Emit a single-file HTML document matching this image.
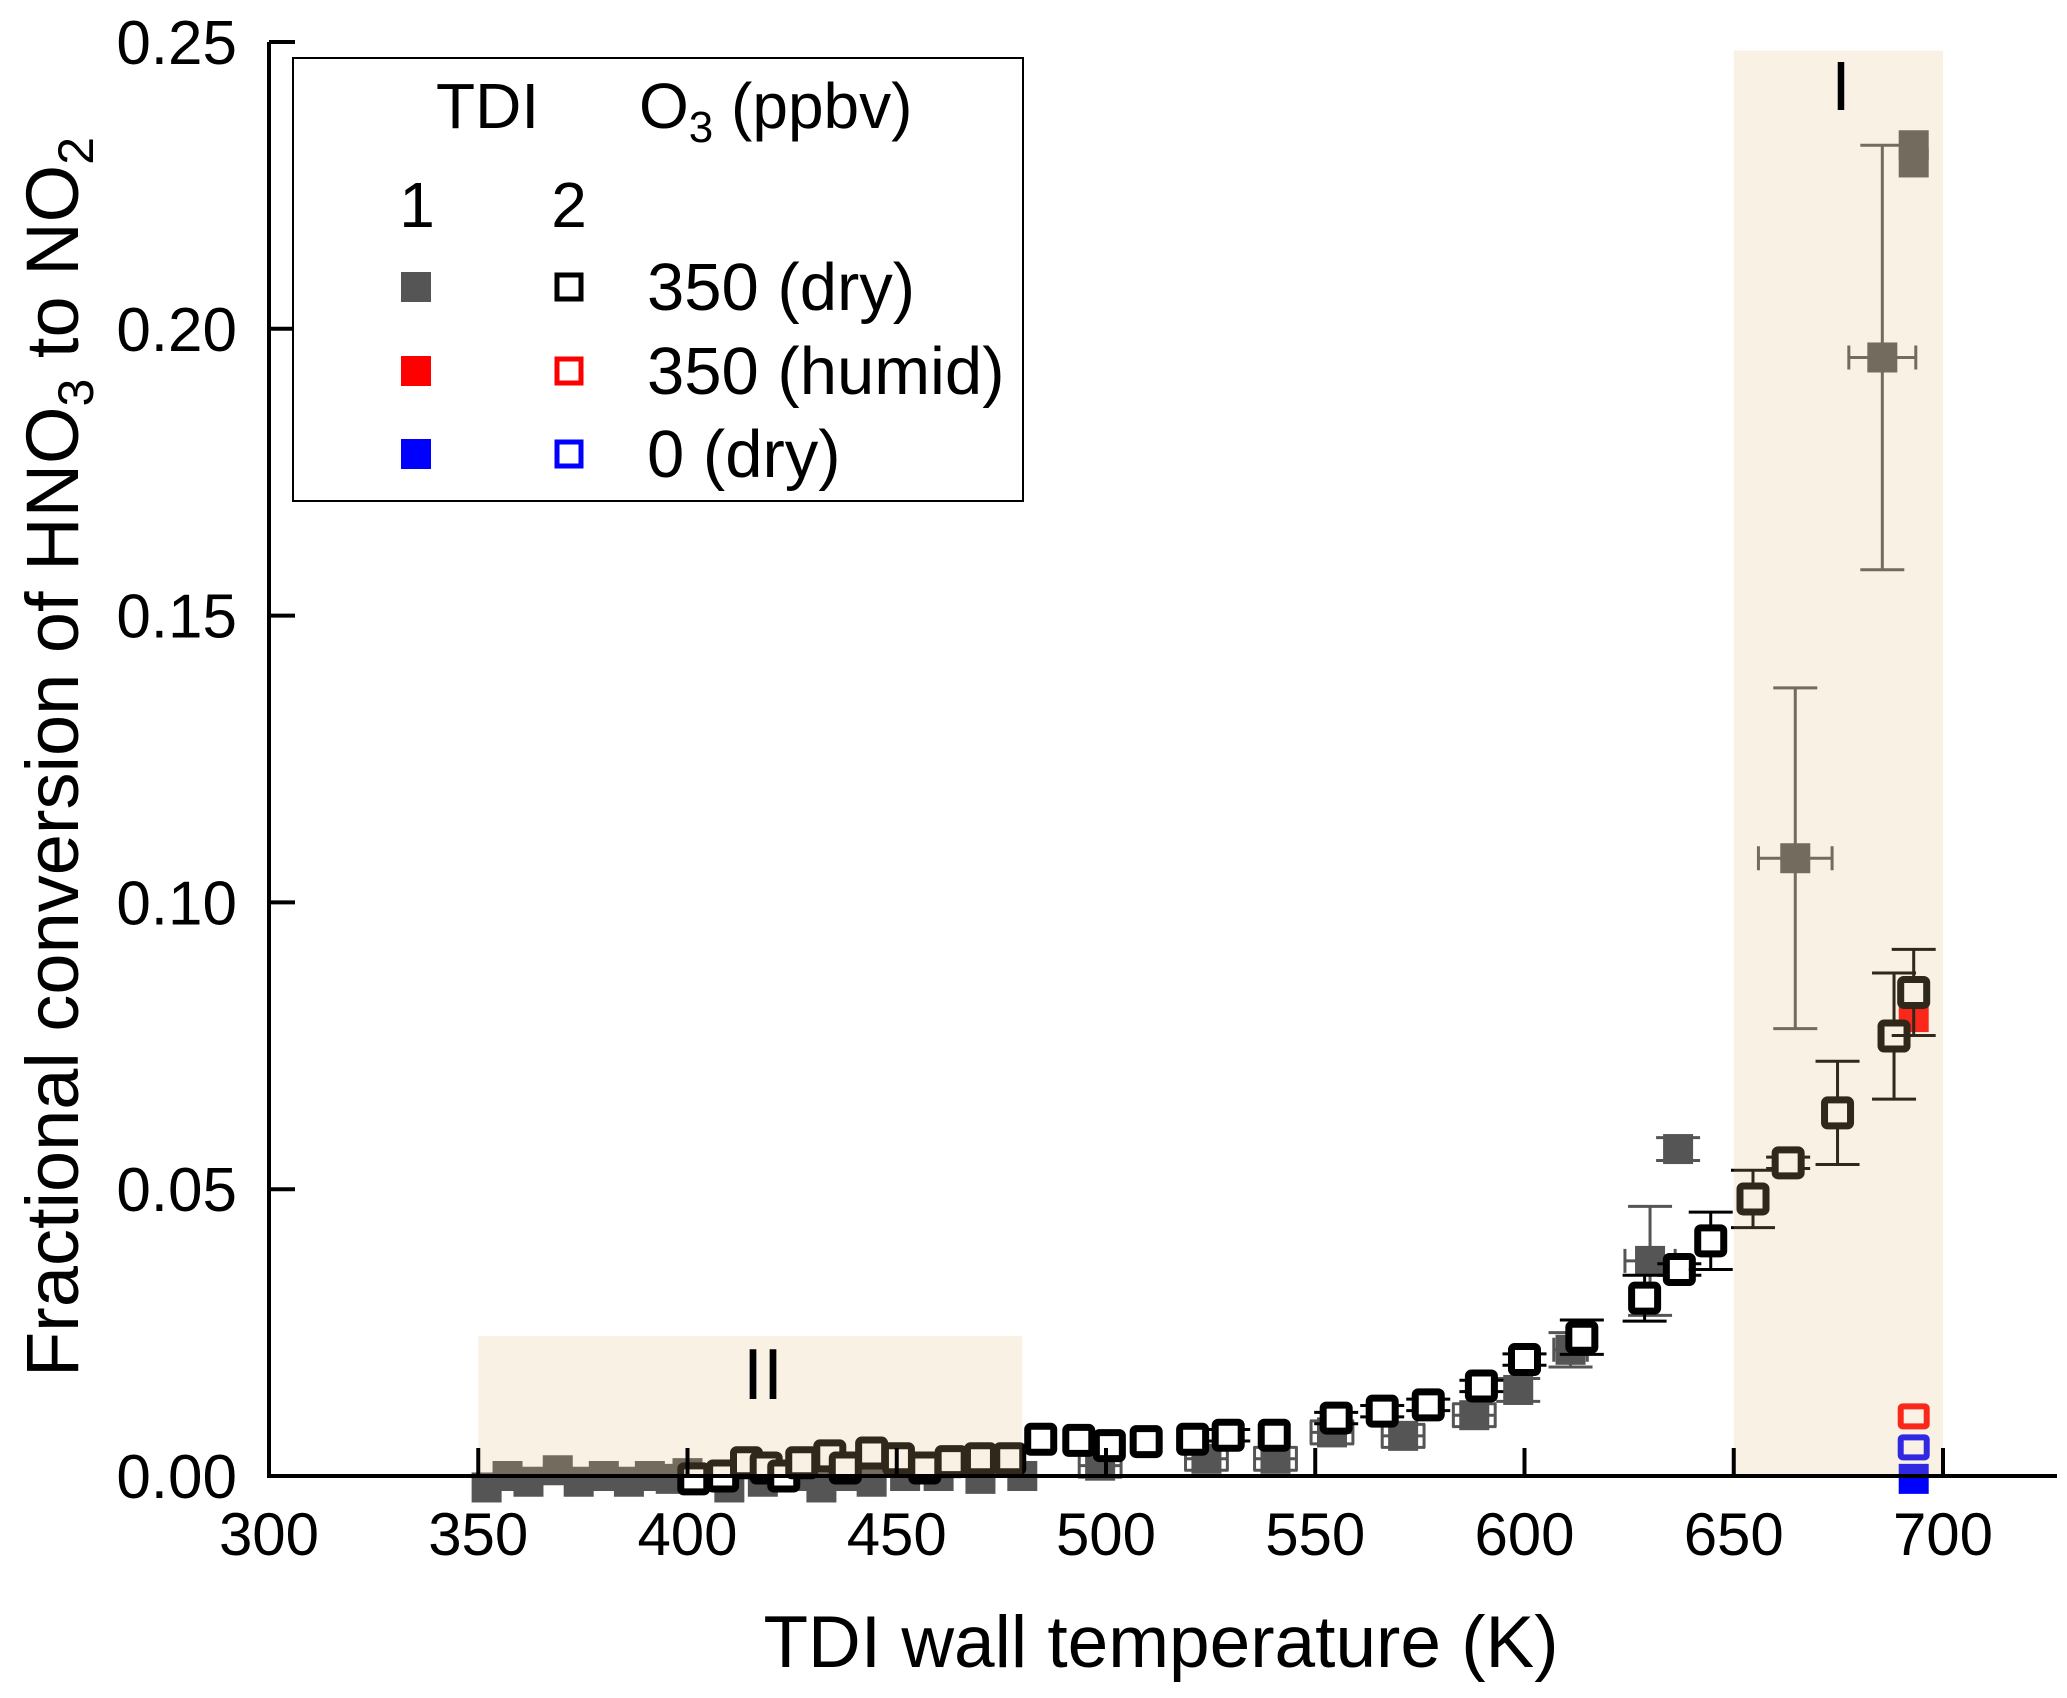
<!DOCTYPE html>
<html><head><meta charset="utf-8">
<style>html,body{margin:0;padding:0;background:#fff}svg{display:block}text{font-family:"Liberation Sans",Arial,sans-serif;fill:#000}</style>
</head><body>
<svg id="chart" width="2067" height="1698" viewBox="0 0 2067 1698" xmlns="http://www.w3.org/2000/svg">
<g id="marks"></g>
<g id="shade"></g>
<g id="axes"></g>
<g id="legend">
  <rect x="293" y="58" width="730" height="443" fill="#fff" stroke="#000" stroke-width="2"/>
  <text x="436" y="128" font-size="64">TDI</text>
  <text x="639" y="128" font-size="64">O<tspan font-size="44" dy="14">3</tspan><tspan dy="-14"> (ppbv)</tspan></text>
  <text x="417" y="227" font-size="64" text-anchor="middle">1</text>
  <text x="569" y="227" font-size="64" text-anchor="middle">2</text>
  <rect x="401" y="272" width="30" height="30" fill="#555"/>
  <rect x="557" y="275" width="24" height="24" fill="none" stroke="#000" stroke-width="5"/>
  <text x="647" y="310" font-size="67">350 (dry)</text>
  <rect x="401" y="356" width="30" height="30" fill="#f00"/>
  <rect x="557" y="359" width="24" height="24" fill="none" stroke="#f00" stroke-width="5"/>
  <text x="647" y="394" font-size="67">350 (humid)</text>
  <rect x="401" y="439" width="30" height="30" fill="#00f"/>
  <rect x="557" y="442" width="24" height="24" fill="none" stroke="#00f" stroke-width="5"/>
  <text x="647" y="477" font-size="67">0 (dry)</text>
</g>
</svg>
<script>
const xTicks=[300,350,400,450,500,550,600,650,700];
const yTicks=[0,0.05,0.10,0.15,0.20,0.25];
const yTickLabels=["0.00","0.05","0.10","0.15","0.20","0.25"];
const tdi1DryX=[352,357,362,369,374,380,386,391,396,400,410,418,425,432,437,444,452,460,470,480,498.6,524,540.5,554,571,588,598.5,611,630,636.7,664.7,685.5,693,693];
const tdi1DryY=[-0.002,0.0,-0.001,0.001,-0.001,0.0,-0.001,0.0,-0.0005,0.0005,-0.002,-0.001,0.0,-0.002,0.0,-0.001,0.0,0.0,-0.0005,0.0,0.0018,0.003,0.003,0.0076,0.007,0.0106,0.015,0.022,0.0375,0.057,0.1077,0.195,0.232,0.229];
const tdi1DryYErr=[0,0,0,0,0,0,0,0,0,0,0,0,0,0,0,0,0,0,0,0,0.002,0.002,0.002,0.002,0.002,0.002,0.002,0.003,0.0095,0.002,0.0297,0.037,0,0];
const tdi1DryXErr=[0,0,0,0,0,0,0,0,0,0,0,0,0,0,0,0,0,0,0,0,5,5,5,5,5,5,3,4,6,2,8.8,8,0,0];
const tdi2DryX=[401.5,408.4,414.1,418.8,423,427.3,434,437.7,444,450.4,456.7,463,470,477,484.4,493.5,500.8,509.6,520.7,529.2,540.2,555,566,577,589.7,600,613.7,628.7,637,644.5,654.6,663,674.8,688.3,693];
const tdi2DryY=[-0.0005,0.0,0.0023,0.0014,0.0,0.0023,0.0035,0.0014,0.004,0.003,0.0014,0.0025,0.003,0.003,0.0064,0.0062,0.0053,0.006,0.0064,0.0071,0.0071,0.0101,0.0113,0.0124,0.0157,0.0203,0.0242,0.031,0.036,0.041,0.0483,0.0546,0.0633,0.0767,0.0843];
const tdi2DryYErr=[0,0,0,0,0,0,0,0,0,0,0,0,0,0,0,0,0,0,0,0.001,0,0.001,0.001,0.001,0.001,0.001,0.003,0.004,0.001,0.005,0.005,0.001,0.009,0.011,0.0075];
const tdi1OtherX=[693,693];
const tdi1OtherY=[0.080,-0.0005];
const tdi1OtherColor=["#f00","#00f"];
const tdi2OtherX=[693,693];
const tdi2OtherY=[0.0104,0.005];
const tdi2OtherColor=["#f00","#00f"];
const regionX0=[650,350], regionX1=[700,480], regionTop=[0.2485,0.0244];
const regionLabels=["I","II"];

const X=v=>269+(v-300)*4.185;
const Y=v=>1476-v*5736;
const NS="http://www.w3.org/2000/svg";
function mk(tag,attrs,parent){const e=document.createElementNS(NS,tag);for(const k in attrs)e.setAttribute(k,attrs[k]);parent.appendChild(e);return e;}
const marks=document.getElementById('marks'),shade=document.getElementById('shade'),axes=document.getElementById('axes');

function errbar(cx,cy,xe,ye,col,w){
  if(ye>0){const l=mk('path',{d:`M${cx},${Y(cy-ye)}V${Y(cy+ye)}M${cx-22},${Y(cy-ye)}h44M${cx-22},${Y(cy+ye)}h44`,stroke:col,'stroke-width':w,fill:'none'},marks);
    
    }
  if(xe>0){const x0=cx-xe*4.185,x1=cx+xe*4.185,yy=Y(cy);
    const l=mk('path',{d:`M${x0},${yy}H${x1}M${x0},${yy-12}v24M${x1},${yy-12}v24`,stroke:col,'stroke-width':w,fill:'none'},marks);
    
    }
}
tdi1DryX.forEach((v,i)=>{const cx=X(v);errbar(cx,tdi1DryY[i],tdi1DryXErr[i],tdi1DryYErr[i],'#555',3);
  const r=mk('rect',{x:cx-15,y:Y(tdi1DryY[i])-15,width:30,height:30,fill:'#555'},marks);
  
  });
tdi1OtherX.forEach((v,i)=>{const cx=X(v);
  const r=mk('rect',{x:cx-15,y:Y(tdi1OtherY[i])-15,width:30,height:30,fill:tdi1OtherColor[i]},marks);
  
  });
tdi2DryX.forEach((v,i)=>{const cx=X(v);errbar(cx,tdi2DryY[i],3,tdi2DryYErr[i],'#000',3);
  const r=mk('rect',{x:cx-13,y:Y(tdi2DryY[i])-13,width:26,height:26,fill:'#fff',stroke:'#000','stroke-width':7,rx:3},marks);
  
  });
tdi2OtherX.forEach((v,i)=>{const cx=X(v);
  const r=mk('rect',{x:cx-13,y:Y(tdi2OtherY[i])-10,width:26,height:20,fill:'#fff',stroke:tdi2OtherColor[i],'stroke-width':6,rx:2},marks);
  
  });

regionX0.forEach((v,i)=>{
  const r=mk('rect',{x:X(v),y:Y(regionTop[i]),width:X(regionX1[i])-X(v),height:Y(0)-Y(regionTop[i]),fill:'rgb(229,190,124)','fill-opacity':0.21},shade);
  
  });
let t=mk('text',{x:1841,y:110,'font-size':70,'text-anchor':'middle'},shade);t.textContent='I';


t=mk('text',{x:763,y:1399,'font-size':72,'text-anchor':'middle'},shade);t.textContent='II';



let a=mk('path',{d:`M269,${Y(0.25)}V1476H2057`,stroke:'#000','stroke-width':4,fill:'none'},axes);


xTicks.forEach(v=>{const tk=mk('path',{d:`M${X(v)},1476v-28`,stroke:'#000','stroke-width':4},axes);
  
  
  const l=mk('text',{x:X(v),y:1555,'font-size':60,'text-anchor':'middle'},axes);l.textContent=v;
  
  });
yTicks.forEach((v,i)=>{const tk=mk('path',{d:`M269,${Y(v)}h26`,stroke:'#000','stroke-width':4},axes);
  
  
  const l=mk('text',{x:237,y:Y(v)+22,'font-size':62,'text-anchor':'end'},axes);l.textContent=yTickLabels[i];
  
  });
t=mk('text',{x:1161,y:1667,'font-size':73,'text-anchor':'middle'},axes);t.textContent='TDI wall temperature (K)';


t=mk('text',{x:0,y:0,'font-size':74,'text-anchor':'middle',transform:'translate(78,757) rotate(-90)'},axes);
t.innerHTML='Fractional conversion of HNO<tspan font-size="50" dy="15">3</tspan><tspan dy="-15"> to NO</tspan><tspan font-size="50" dy="15">2</tspan>';


</script>
</body></html>
